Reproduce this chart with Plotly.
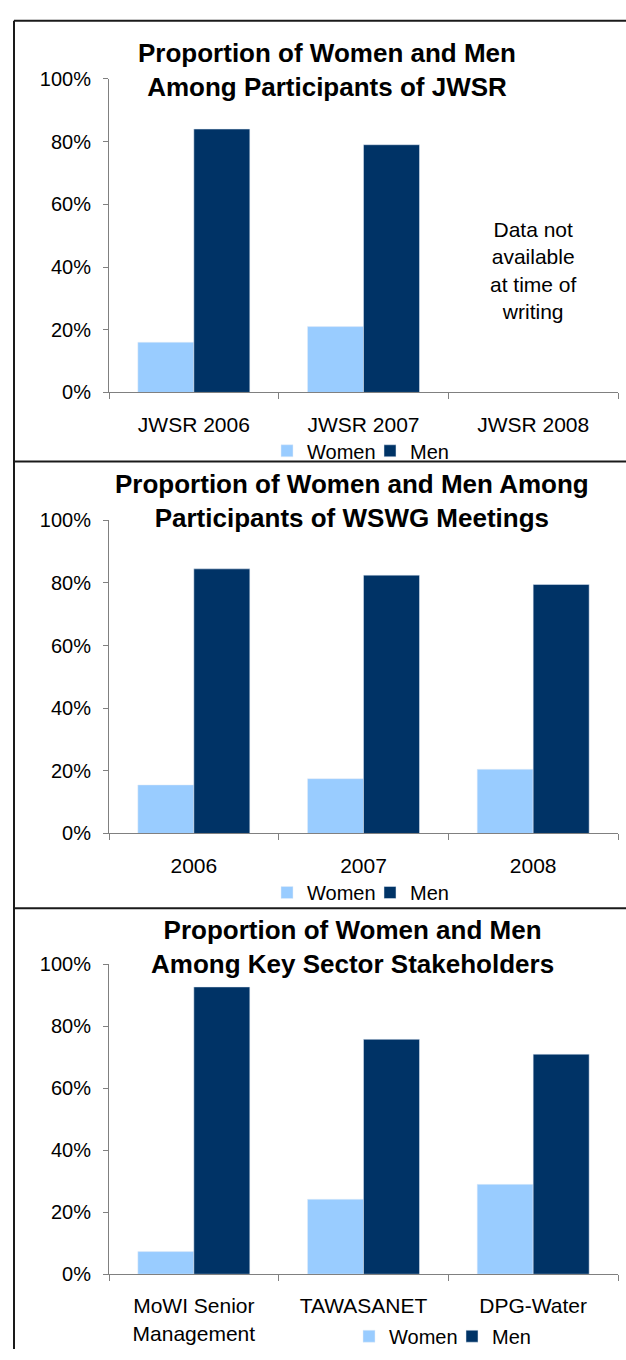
import plotly.graph_objects as go

# ---- data ----
cats1 = ["JWSR 2006", "JWSR 2007", "JWSR 2008"]
women1 = [16, 21, None]
men1 = [84, 79, None]

cats2 = ["2006", "2007", "2008"]
women2 = [15.5, 17.5, 20.5]
men2 = [84.5, 82.5, 79.5]

cats3 = ["MoWI Senior<br>Management", "TAWASANET", "DPG-Water"]
women3 = [7.3, 24.2, 29]
men3 = [92.7, 75.8, 71]

titles = [
    "Proportion of Women and Men<br>Among Participants of JWSR",
    "Proportion of Women and Men Among<br>Participants of WSWG Meetings",
    "Proportion of Women and Men<br>Among Key Sector Stakeholders",
]
note_text = "Data not<br>available<br>at time of<br>writing"
y_tickvals = [0, 20, 40, 60, 80, 100]
y_ticktext = ["0%", "20%", "40%", "60%", "80%", "100%"]

W, H = 626, 1360
WOMEN_C = "#99CCFF"
MEN_C = "#003366"
FONT = "Liberation Sans, Arial, sans-serif"

def px(x):
    return x / W

def py(y):
    return 1 - y / H

fig = go.Figure()

panels = [
    (cats1, women1, men1, (69, 387.7), 447, 370, 327, 59.5),
    (cats2, women2, men2, (517.7, 836), 896, 370, 352, 498.5),
    (cats3, women3, men3, (969, 1284), 1347, 452, 352, 951.5),
]

x_dom = [px(109), px(618)]
layout_axes = {}
for i, (cats, w, m, (ytop, ybot), leg_y, leg_x, tx, ty) in enumerate(panels, start=1):
    sfx = "" if i == 1 else str(i)
    leg = "legend" if i == 1 else f"legend{i}"
    fig.add_trace(go.Bar(x=cats, y=w, name="Women", marker_color=WOMEN_C,
                         xaxis=f"x{sfx}", yaxis=f"y{sfx}", legend=leg))
    fig.add_trace(go.Bar(x=cats, y=m, name="Men", marker_color=MEN_C,
                         xaxis=f"x{sfx}", yaxis=f"y{sfx}", legend=leg))
    layout_axes[f"xaxis{sfx}"] = dict(
        domain=x_dom, anchor=f"y{sfx}", type="category",
        showline=True, linecolor="#808080", linewidth=1,
        ticks="outside", tickson="boundaries", ticklen=6, tickcolor="#808080",
        tickfont=dict(family=FONT, size=21, color="black"),
        ticklabelstandoff=13, showgrid=False, zeroline=False, fixedrange=True,
    )
    layout_axes[f"yaxis{sfx}"] = dict(
        domain=[py(ybot), py(ytop)], anchor=f"x{sfx}", range=[0, 100],
        tickmode="array", tickvals=y_tickvals, ticktext=y_ticktext,
        showline=True, linecolor="#808080", linewidth=1,
        ticks="outside", ticklen=5, tickcolor="#808080",
        tickfont=dict(family=FONT, size=20, color="black"),
        ticklabelstandoff=8, showgrid=False, zeroline=False, fixedrange=True,
    )
    layout_axes[leg] = dict(
        orientation="h", x=px(leg_x), xanchor="center", y=py(leg_y), yanchor="middle",
        font=dict(family=FONT, size=20, color="black"), bgcolor="rgba(0,0,0,0)",
        entrywidth=58, entrywidthmode="pixels",
        itemclick=False, itemdoubleclick=False,
    )
    fig.add_annotation(
        text=f"<b>{titles[i-1]}</b>", x=px(tx), y=py(ty), xref="paper", yref="paper",
        showarrow=False, xanchor="center", yanchor="middle",
        font=dict(family=FONT, size=26, color="black"),
    )

fig.add_annotation(
    text=note_text, x=2, y=39, xref="x", yref="y", showarrow=False,
    xanchor="center", yanchor="middle",
    font=dict(family=FONT, size=21, color="black"),
)

# panel borders
border = dict(color="#1a1a1a", width=2)
for yy in [10, 458, 912]:
    fig.add_shape(type="line", xref="paper", yref="paper",
                  x0=px(14), x1=1, y0=py(yy), y1=py(yy), line=border)
fig.add_shape(type="line", xref="paper", yref="paper",
              x0=px(14), x1=px(14), y0=py(10), y1=0, line=border)

fig.update_layout(
    width=W, height=H, margin=dict(l=0, r=0, t=0, b=0),
    paper_bgcolor="white", plot_bgcolor="white",
    barmode="group", bargap=0.34, bargroupgap=0,
    showlegend=True, font=dict(family=FONT, color="black"),
    **layout_axes,
)

fig.write_html("out.html", post_script="document.body.style.margin='0';",
               config={"displayModeBar": False})
